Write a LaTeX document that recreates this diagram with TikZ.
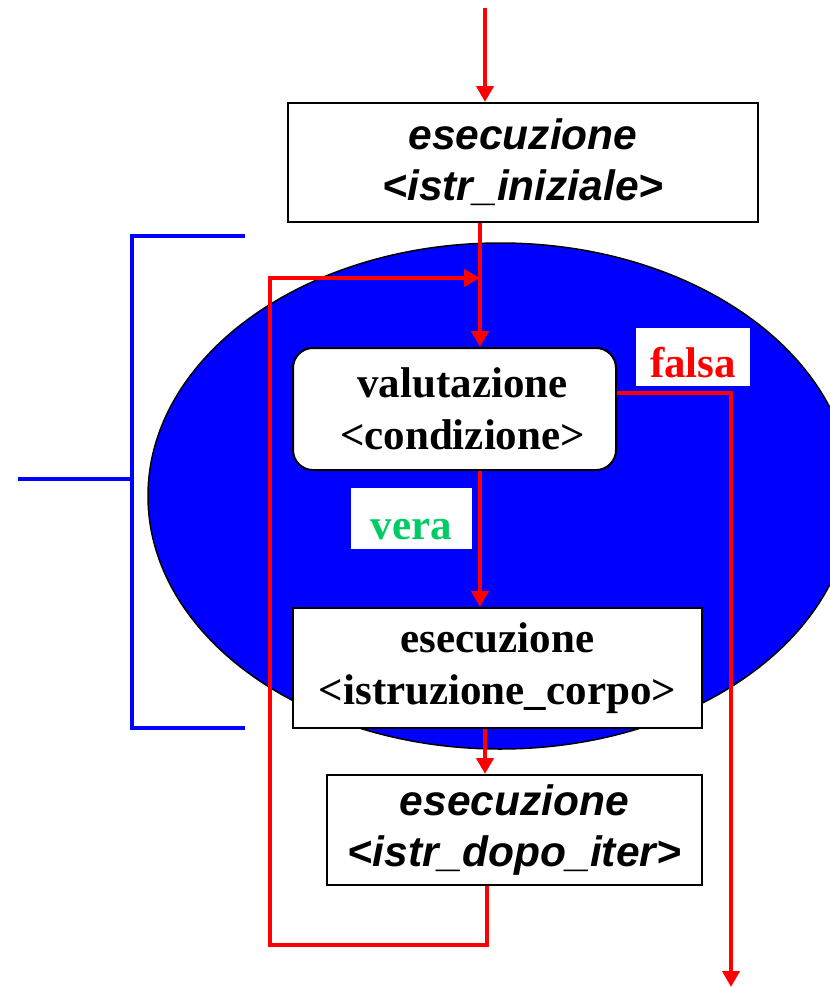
\documentclass[tikz,border=0pt]{standalone}
\usepackage{fontspec}
\setmainfont{Liberation Serif}
\newfontfamily\arialfam{Liberation Sans}
\usetikzlibrary{arrows.meta,calc}

\definecolor{veragreen}{RGB}{0,204,102}

\tikzset{
  flow/.style={draw=red, line width=4.2pt},
  flowarrow/.style={flow, -{Triangle[length=16pt,width=17pt]}},
  bracketline/.style={draw=blue, line width=4pt},
  sansbox/.style={draw=black, line width=2pt, fill=white, inner sep=0pt, align=center,
    font=\arialfam\bfseries\itshape\fontsize{42.5}{51}\selectfont},
  serifbox/.style={draw=black, line width=2pt, fill=white, inner sep=0pt, align=center,
    font=\bfseries\fontsize{43}{52}\selectfont},
  tag/.style={fill=white, inner sep=0pt, font=\bfseries\fontsize{43}{50}\selectfont,
    text height=41pt, text depth=0pt}
}

\begin{document}
\begin{tikzpicture}[x=1pt,y=-1pt]
  \path[use as bounding box] (0,0) rectangle (830,988);
  \clip (0,0) rectangle (830,988);

  % loop region
  \draw[fill=blue, line width=1.5pt] (500,496) ellipse [x radius=352pt, y radius=253pt];

  % bracket marking the loop
  \draw[bracketline] (245,236) -- (132,236) -- (132,728) -- (245,728);
  \draw[bracketline] (18,479) -- (132,479);

  % blocks
  \node[sansbox, minimum width=470pt, minimum height=119pt] (init) at (523,162.5)
    {esecuzione\\<istr\_iniziale>};
  \node[serifbox, rounded corners=20pt, minimum width=323pt, minimum height=122pt] (cond) at (454.5,409)
    {\hspace*{16pt}valutazione\\\hspace*{16pt}<condizione>};
  \node[serifbox, minimum width=409pt, minimum height=120pt] (body) at (497.5,668)
    {esecuzione\\<istruzione\_corpo>};
  \node[sansbox, minimum width=375pt, minimum height=110pt] (after) at (514.5,830)
    {esecuzione\\<istr\_dopo\_iter>};

  % branch labels
  \node[tag, text=red, minimum width=114pt, minimum height=58pt] (falsa) at (693,357) {falsa};
  \node[tag, text=veragreen, minimum width=121pt, minimum height=61pt] (vera) at (411.5,518.5) {vera};

  % helper coordinates
  \coordinate (start) at (485,8);
  \coordinate (xa) at (480,0);
  \coordinate (xb) at (485,0);
  \coordinate (xl) at (487,0);
  \coordinate (lb) at (270,945);
  \coordinate (lt) at (270,278);
  \coordinate (fx) at (731,393);
  \coordinate (fend) at (731,987);

  % control flow
  \draw[flowarrow] (start) -- (start |- init.north);
  \draw[flowarrow] (init.south -| xa) -- (cond.north -| xa);
  \draw[flowarrow] (cond.south -| xa) -- (body.north -| xa);
  \draw[flowarrow] (body.south -| xb) -- (after.north -| xb);
  \draw[flowarrow] (after.south -| xl) -- (lb -| xl) -- (lb) -- (lt) -- (lt -| xa);
  \draw[flowarrow] (cond.east |- fx) -- (fx) -- (fend);
\end{tikzpicture}
\end{document}
